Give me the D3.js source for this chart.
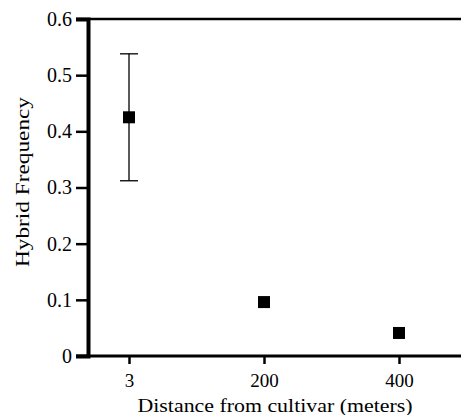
<!DOCTYPE html>
<html>
<head>
<meta charset="utf-8">
<script src="https://cdn.jsdelivr.net/npm/d3@7"></script>
<style>
  body { margin: 0; background: #fff; }
  text { font-family: "Liberation Serif", "Times New Roman", serif; fill: #000; }
</style>
</head>
<body>
<div id="chart"></div>
<script>
const distances = ["3", "200", "400"];
const hybridFreq = [0.425, 0.096, 0.041];
const errUpper = [0.538, null, null];
const errLower = [0.312, null, null];
const yTicks = [0, 0.1, 0.2, 0.3, 0.4, 0.5, 0.6];

const W = 461, H = 415;
const plotLeft = 88, plotTop = 19, plotBottom = 356;
const serif = "Liberation Serif, Times New Roman, serif";

const svg = d3.select("#chart").append("svg")
  .attr("width", W).attr("height", H);

const x = d3.scalePoint().domain(distances).range([129, 399]);
const y = d3.scaleLinear().domain([0, 0.6]).range([plotBottom, plotTop]);

// top frame line
svg.append("line")
  .attr("x1", plotLeft - 12).attr("x2", W)
  .attr("y1", y(0.6)).attr("y2", y(0.6))
  .attr("stroke", "#000").attr("stroke-width", 2.5);

// y axis
const yAxis = svg.append("g").attr("transform", `translate(${plotLeft},0)`)
  .call(d3.axisLeft(y).tickValues(yTicks).tickSize(12).tickPadding(4)
    .tickFormat(d => d === 0 ? "0" : d3.format(".1f")(d)))
  .attr("font-family", serif);
yAxis.select(".domain").attr("stroke-width", 4);
yAxis.selectAll(".tick line").attr("stroke-width", 2.5);
yAxis.selectAll(".tick text").attr("font-size", 20).attr("fill", "#000");

// x axis
const xAxis = svg.append("g").attr("transform", `translate(0,${plotBottom})`)
  .call(d3.axisBottom(x).tickSize(8).tickPadding(10))
  .attr("font-family", serif);
xAxis.select(".domain").remove();
xAxis.append("line")
  .attr("x1", plotLeft - 12).attr("x2", W).attr("y1", 0).attr("y2", 0)
  .attr("stroke", "#000").attr("stroke-width", 3);
xAxis.selectAll(".tick line").attr("stroke-width", 2.5);
xAxis.selectAll(".tick text").attr("font-size", 19).attr("fill", "#000");

// axis titles
svg.append("text")
  .attr("x", 275).attr("y", 412)
  .attr("text-anchor", "middle").attr("font-size", 19)
  .attr("textLength", 275).attr("lengthAdjust", "spacingAndGlyphs")
  .text("Distance from cultivar (meters)");
svg.append("text")
  .attr("transform", `translate(29,182) rotate(-90)`)
  .attr("text-anchor", "middle").attr("font-size", 19)
  .attr("textLength", 170).attr("lengthAdjust", "spacingAndGlyphs")
  .text("Hybrid Frequency");

// error bars
const pts = distances.map((d, i) => ({ d, v: hybridFreq[i], hi: errUpper[i], lo: errLower[i] }));
const eb = svg.append("g").selectAll("g").data(pts.filter(p => p.hi != null)).enter().append("g")
  .attr("stroke", "#000").attr("stroke-width", 1.3);
eb.append("line").attr("x1", p => x(p.d)).attr("x2", p => x(p.d))
  .attr("y1", p => y(p.hi)).attr("y2", p => y(p.lo));
eb.append("line").attr("x1", p => x(p.d) - 9).attr("x2", p => x(p.d) + 9)
  .attr("y1", p => y(p.hi)).attr("y2", p => y(p.hi));
eb.append("line").attr("x1", p => x(p.d) - 9).attr("x2", p => x(p.d) + 9)
  .attr("y1", p => y(p.lo)).attr("y2", p => y(p.lo));

// square markers
const s = 12;
svg.append("g").selectAll("rect").data(pts).enter().append("rect")
  .attr("x", p => x(p.d) - s / 2).attr("y", p => y(p.v) - s / 2)
  .attr("width", s).attr("height", s).attr("fill", "#000");
</script>
</body>
</html>
